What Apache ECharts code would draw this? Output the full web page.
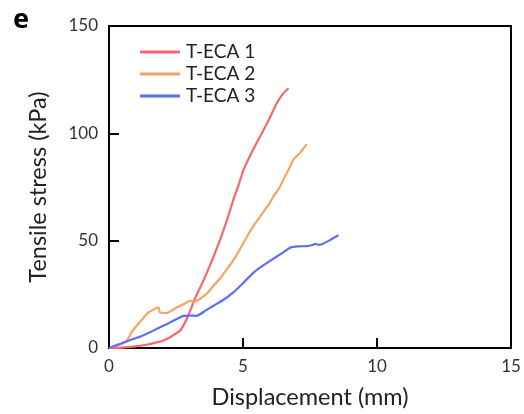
<!DOCTYPE html>
<html>
<head>
<meta charset="utf-8">
<script src="https://cdn.jsdelivr.net/npm/echarts@6/dist/echarts.min.js"></script>
<style>
  html, body { margin: 0; padding: 0; background: #fff; }
  #chart { width: 524px; height: 414px; }
</style>
</head>
<body>
<div id="chart"></div>
<script>
// 数据 (displacement mm, stress kPa)
var names = ['T-ECA 1', 'T-ECA 2', 'T-ECA 3'];
var colors = ['#f8676b', '#f5a462', '#5b6ff8'];
var eca1 = [[0,0],[0.5,0.2],[0.9,0.6],[1.4,1.5],[1.78,2.6],[2.05,3.6],[2.28,5],[2.5,6.8],[2.65,8],[2.8,11],[2.9,13.5],[3.05,18],[3.2,22.8],[3.45,29.5],[3.65,35],[3.9,42.5],[4.15,50.6],[4.4,59.5],[4.64,69],[4.85,76.5],[5.02,83],[5.3,90.5],[5.64,98.6],[5.95,106],[6.26,114],[6.51,118.7],[6.7,121]];
var eca2 = [[0,0],[0.4,1.5],[0.66,3.4],[0.85,7.5],[1.03,10.4],[1.25,13.5],[1.47,16.6],[1.65,17.8],[1.84,18.9],[1.9,16.6],[2.15,16.3],[2.35,17.5],[2.53,18.9],[2.8,20.5],[3.02,22],[3.15,21.5],[3.27,22],[3.46,23.5],[3.7,26],[3.9,29],[4.15,32.5],[4.4,36.7],[4.7,42],[5.02,49],[5.2,53],[5.39,56.8],[5.6,60.5],[5.83,64.6],[6.0,67.5],[6.14,70.7],[6.35,74.5],[6.51,78.5],[6.7,83],[6.88,87.8],[7.13,90.9],[7.38,95]];
var eca3 = [[0,0],[0.45,2.1],[0.9,4.2],[1.2,5.5],[1.53,7.3],[1.85,9.3],[2.15,11.1],[2.45,13],[2.78,15],[3.0,15.1],[3.27,15],[3.6,17.4],[3.9,19.7],[4.3,22.7],[4.64,25.9],[5.0,30.2],[5.39,35.1],[5.7,38],[6.01,40.6],[6.4,43.7],[6.76,46.7],[7.05,47.3],[7.38,47.5],[7.6,48],[7.69,48.5],[7.8,48.1],[7.94,48.3],[8.25,50.3],[8.56,52.5]];
var xTicks = [0, 5, 10, 15];
var yTicks = [0, 50, 100, 150];

var myChart = echarts.init(document.getElementById('chart'));
var font = 'Lato';
var option = {
    animation: false,
    color: colors,
    title: {
        text: 'e',
        left: 8,
        top: 2,
        textStyle: { fontFamily: 'Noto Sans', fontWeight: 'bold', fontSize: 27, color: '#000' }
    },
    legend: {
        orient: 'vertical',
        left: 135,
        top: 37,
        itemWidth: 40,
        itemHeight: 3,
        itemGap: 2,
        icon: 'rect',
        textStyle: { fontFamily: font, fontSize: 19, color: '#222', padding: [0, 0, 0, 1], lineHeight: 20 },
        data: names
    },
    grid: {
        left: 109, top: 26, width: 402, height: 323,
        show: true, borderColor: '#000', borderWidth: 2
    },
    xAxis: {
        type: 'value',
        min: xTicks[0], max: xTicks[xTicks.length - 1], interval: 5,
        name: 'Displacement (mm)',
        nameLocation: 'middle',
        nameGap: 37,
        nameTextStyle: { fontFamily: font, fontSize: 23.5, color: '#222' },
        axisLine: { lineStyle: { color: '#000', width: 2 } },
        axisTick: { inside: true, length: 10, lineStyle: { color: '#000', width: 2 } },
        axisLabel: { fontFamily: font, fontSize: 17, color: '#333', margin: 10 },
        splitLine: { show: false }
    },
    yAxis: {
        type: 'value',
        min: yTicks[0], max: yTicks[yTicks.length - 1], interval: 50,
        name: 'Tensile stress (kPa)',
        nameLocation: 'middle',
        nameGap: 59,
        nameRotate: 90,
        nameTextStyle: { fontFamily: font, fontSize: 23.5, color: '#222' },
        axisLine: { show: true, lineStyle: { color: '#000', width: 2 } },
        axisTick: { show: true, inside: true, length: 10, lineStyle: { color: '#000', width: 2 } },
        axisLabel: { fontFamily: font, fontSize: 17, color: '#333', margin: 11 },
        splitLine: { show: false }
    },
    series: [eca1, eca2, eca3].map(function (d, i) {
        return {
            name: names[i],
            type: 'line',
            data: d,
            showSymbol: false,
            smooth: 0.2,
            lineStyle: { width: 2.2 }
        };
    })
};
myChart.setOption(option);
</script>
</body>
</html>
